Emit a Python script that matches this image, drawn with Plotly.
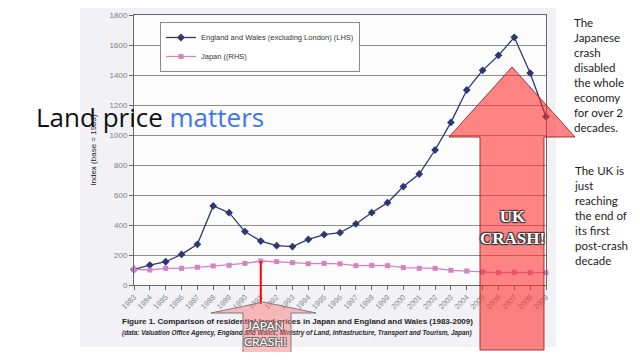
import plotly.graph_objects as go

# ---------------- data ----------------
years = list(range(1983, 2010))
england_wales = [104, 133, 155, 204, 271, 527, 482, 356, 293, 262, 256, 304, 336, 349,
                 407, 482, 549, 656, 740, 900, 1084, 1300, 1431, 1531, 1651, 1413, 1122]
japan = [104, 100, 111, 111, 118, 127, 131, 144, 160, 156, 149, 142, 144, 141,
         129, 131, 129, 116, 111, 111, 98, 93, 87, 82, 84, 82, 82]
y_ticks = list(range(0, 1801, 200))
x_tick_labels = [str(y) for y in years]
series_names = ["England and Wales (excluding London) (LHS)", "Japan ((RHS)"]
y_title = "Index (base = 1983)"
caption_1 = "Figure 1. Comparison of residential land prices in Japan and England and Wales (1983-2009)"
caption_2 = "(data: Valuation Office Agency, England and Wales; Ministry of Land, Infrastructure, Transport and Tourism, Japan)"
title_black = "Land price "
title_blue = "matters"
note_japan = ["The", "Japanese", "crash", "disabled", "the whole", "economy", "for over 2", "decades."]
note_uk = ["The UK is", "just", "reaching", "the end of", "its first", "post-crash", "decade"]
crash_year = 1991

# ---------------- geometry helpers ----------------
# the page body has an 8px margin, so the figure starts 8px in
OX, OY = 8, 8
FW, FH = 624, 344


def px(x):
    return (x - OX) / FW


def py(y):
    return 1 - (y - OY) / FH


XD = [px(134), px(546)]
YD = [py(285), py(15)]
XR = [years[0], years[-1]]
YR = [0, 1800]


def data_x(v):
    return XD[0] + (v - XR[0]) / (XR[1] - XR[0]) * (XD[1] - XD[0])


def data_y(v):
    return YD[0] + (v - YR[0]) / (YR[1] - YR[0]) * (YD[1] - YD[0])


def path(pts):
    return "M " + " L ".join(f"{px(x):.5f},{py(y):.5f}" for x, y in pts) + " Z"


fig = go.Figure()

fig.add_trace(go.Scatter(
    x=years, y=england_wales, name=series_names[0], mode="lines+markers",
    line=dict(color="#2c3775", width=1.3),
    marker=dict(symbol="diamond", size=6, color="#2c3775"),
    cliponaxis=False))
fig.add_trace(go.Scatter(
    x=years, y=japan, name=series_names[1], mode="lines+markers",
    line=dict(color="#d283c4", width=1.3),
    marker=dict(symbol="square", size=5, color="#d283c4"),
    cliponaxis=False))

# caption text (in a pixel-space helper subplot so the arrow can sit above it)
fig.add_trace(go.Scatter(
    x=[122], y=[322], mode="text", text=["<b>" + caption_1 + "</b>"],
    textposition="middle right",
    textfont=dict(family="Liberation Sans", size=8, color="#1e1e1e"),
    xaxis="x2", yaxis="y2", showlegend=False, hoverinfo="skip", cliponaxis=False))
fig.add_trace(go.Scatter(
    x=[122], y=[333], mode="text", text=["<b><i>" + caption_2 + "</i></b>"],
    textposition="middle right",
    textfont=dict(family="Liberation Sans", size=6.4, color="#2a2a2a"),
    xaxis="x2", yaxis="y2", showlegend=False, hoverinfo="skip", cliponaxis=False))

shapes = [
    # scanned page background
    dict(type="rect", xref="paper", yref="paper", x0=px(80), x1=px(556), y0=py(347), y1=1,
         fillcolor="#f1f1f6", line=dict(width=0), layer="below"),
    # plot area
    dict(type="rect", xref="paper", yref="paper", x0=XD[0], x1=XD[1], y0=YD[0], y1=YD[1],
         fillcolor="#fcfcfd", line=dict(width=0), layer="below"),
    # red pointer from Japan crash year
    dict(type="line", xref="paper", yref="paper",
         x0=data_x(crash_year), x1=data_x(crash_year),
         y0=data_y(japan[years.index(crash_year)]), y1=py(304),
         line=dict(color="#ff0000", width=2)),
    # Japan crash arrow
    dict(type="path", xref="paper", yref="paper",
         path=path([(263.5, 302), (316, 313), (291, 313), (291, 353), (243, 353), (243, 313), (211, 313)]),
         fillcolor="rgba(255,110,110,0.45)", line=dict(color="#7d7d7d", width=1), layer="above"),
    # UK crash arrow
    dict(type="path", xref="paper", yref="paper",
         path=path([(512, 67), (575, 137), (544, 137), (544, 350), (480, 350), (480, 137), (449, 137)]),
         fillcolor="rgba(255,45,45,0.58)", line=dict(color="rgba(140,30,30,0.85)", width=1), layer="above"),
]

annotations = [
    dict(xref="paper", yref="paper", x=px(150), y=py(117), xanchor="center", yanchor="middle",
         showarrow=False,
         text=title_black + "<span style='color:#3f74f2'>" + title_blue + "</span>",
         font=dict(family="Open Sans", size=26, color="#111111")),
    dict(xref="paper", yref="paper", x=px(572), y=py(14), xanchor="left", yanchor="top",
         showarrow=False, align="left", text="<br>".join(note_japan),
         font=dict(family="Lato", size=11.5, color="#222222")),
    dict(xref="paper", yref="paper", x=px(572), y=py(162), xanchor="left", yanchor="top",
         showarrow=False, align="left", text="<br>".join(note_uk),
         font=dict(family="Lato", size=11.5, color="#222222")),
    dict(xref="paper", yref="paper", x=px(512), y=py(227), xanchor="center", yanchor="middle",
         showarrow=False, align="center", text="<b>UK<br>CRASH!</b>",
         font=dict(family="Liberation Serif", size=17, color="#ffffff",
                   shadow="1px 1px 1px #333, -1px -1px 1px #333, 1px -1px 1px #333, -1px 1px 1px #333")),
    dict(xref="paper", yref="paper", x=px(265), y=py(333), xanchor="center", yanchor="middle",
         showarrow=False, align="center", text="JAPAN<br>CRASH!",
         font=dict(family="Lato", size=12, color="#ffffff",
                   shadow="1px 1px 0px #666, -1px -1px 0px #666, 1px -1px 0px #666, -1px 1px 0px #666")),
]

fig.update_layout(
    width=FW, height=FH,
    margin=dict(l=0, r=0, t=0, b=0, autoexpand=False),
    paper_bgcolor="#ffffff",
    plot_bgcolor="rgba(0,0,0,0)",
    showlegend=True,
    legend=dict(x=px(160), y=py(22), xanchor="left", yanchor="top",
                bgcolor="#ffffff", bordercolor="#8a8a8a", borderwidth=1,
                font=dict(family="Liberation Sans", size=7.5, color="#333333"),
                itemwidth=30, tracegroupgap=0),
    xaxis=dict(domain=XD, range=XR, tickmode="array", tickvals=years, ticktext=x_tick_labels,
               tickangle=-45, tickfont=dict(family="Liberation Sans", size=7.5, color="#888888"),
               ticks="outside", ticklen=4, tickcolor="#666666",
               showline=True, linecolor="#666666", linewidth=1, mirror=True,
               showgrid=False, zeroline=False, fixedrange=True, automargin=False),
    yaxis=dict(domain=YD, range=YR, tickmode="array", tickvals=y_ticks,
               tickfont=dict(family="Liberation Sans", size=8, color="#808080"),
               ticks="outside", ticklen=4, tickcolor="#666666",
               showline=True, linecolor="#666666", linewidth=1, mirror=True,
               showgrid=True, gridcolor="#8e8e8e", gridwidth=1, zeroline=False,
               title=dict(text=y_title, font=dict(family="Liberation Sans", size=8, color="#222222"),
                          standoff=11),
               fixedrange=True, automargin=False),
    xaxis2=dict(domain=[0, 1], range=[OX, OX + FW], visible=False, anchor="y2",
                fixedrange=True, automargin=False),
    yaxis2=dict(domain=[0, 1], range=[OY + FH, OY], visible=False, anchor="x2",
                fixedrange=True, automargin=False),
    shapes=shapes,
    annotations=annotations,
)

fig.write_html("out.html")
